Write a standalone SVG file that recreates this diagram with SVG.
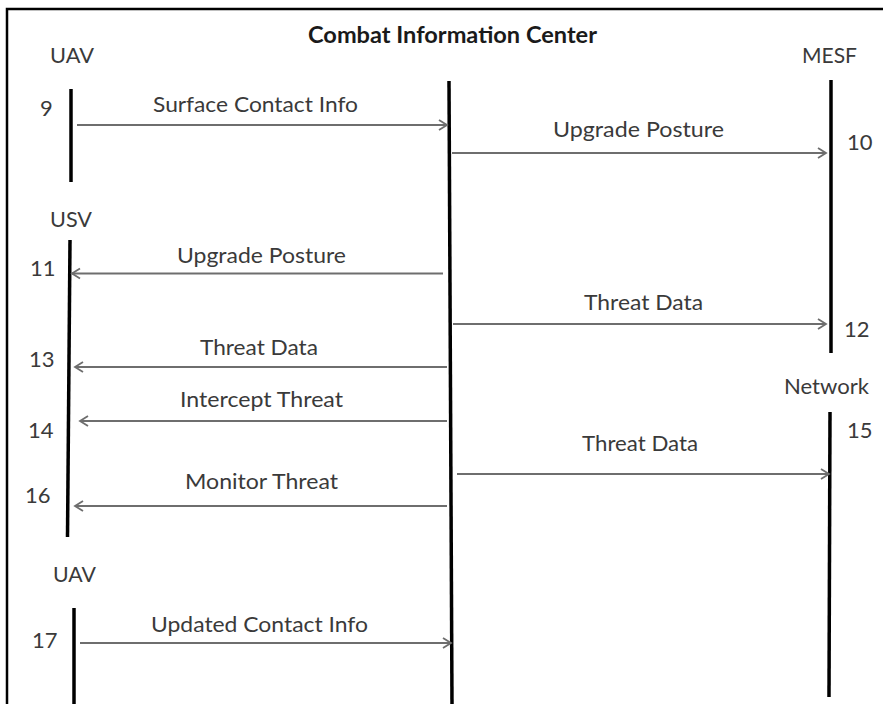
<svg xmlns="http://www.w3.org/2000/svg" width="883" height="704" viewBox="0 0 883 704">
<defs>
<marker id="open" markerUnits="userSpaceOnUse" markerWidth="14" markerHeight="14" viewBox="-10 -7 12 14" refX="0" refY="0" orient="auto">
<path d="M-8,-5 L0,0 L-8,5" fill="none" stroke="#6e6e6e" stroke-width="1.8"/>
</marker>
</defs>
<style>
.bg{fill:#fff}
.frame{fill:none;stroke:#000;stroke-width:2.5}
.life{stroke:#000;stroke-width:3.5;stroke-linecap:butt}
.msg{stroke:#6e6e6e;stroke-width:2;fill:none;marker-end:url(#open)}
.t{font-family:Lato,"Open Sans","Liberation Sans",sans-serif;font-size:22px;fill:#3a3a3a}
.title{font-family:Lato,"Open Sans","Liberation Sans",sans-serif;font-size:22px;font-weight:bold;fill:#1a1a1a}
</style>
<rect class="bg" x="0" y="0" width="883" height="704"/>
<rect class="frame" x="7" y="9" width="890" height="710"/>

<g id="cic">
<text class="title" x="308" y="43" textLength="289" lengthAdjust="spacingAndGlyphs">Combat Information Center</text>
<line class="life" x1="449" y1="81" x2="452" y2="704"/>
</g>
<g id="uav1">
<text class="t" x="50" y="63" textLength="44" lengthAdjust="spacingAndGlyphs">UAV</text>
<line class="life" x1="71" y1="89" x2="71" y2="182"/>
</g>
<g id="mesf">
<text class="t" x="802" y="63" textLength="55" lengthAdjust="spacingAndGlyphs">MESF</text>
<line class="life" x1="831" y1="80" x2="831" y2="353"/>
</g>
<g id="usv">
<text class="t" x="50" y="227" textLength="42" lengthAdjust="spacingAndGlyphs">USV</text>
<line class="life" x1="70" y1="240" x2="67.5" y2="537"/>
</g>
<g id="network">
<text class="t" x="784" y="394" textLength="85" lengthAdjust="spacingAndGlyphs">Network</text>
<line class="life" x1="830" y1="412" x2="829" y2="697"/>
</g>
<g id="uav2">
<text class="t" x="53" y="582" textLength="43" lengthAdjust="spacingAndGlyphs">UAV</text>
<line class="life" x1="74" y1="608" x2="74" y2="704"/>
</g>

<g id="connectors">
<line class="msg" x1="77" y1="125" x2="447" y2="125"/>
<line class="msg" x1="452" y1="153" x2="826" y2="153"/>
<line class="msg" x1="443" y1="273.5" x2="72" y2="273.5"/>
<line class="msg" x1="453" y1="324" x2="826" y2="324"/>
<line class="msg" x1="447" y1="367" x2="75" y2="367"/>
<line class="msg" x1="447" y1="421" x2="80" y2="421"/>
<line class="msg" x1="457" y1="474" x2="829" y2="474"/>
<line class="msg" x1="447" y1="506" x2="75" y2="506"/>
<line class="msg" x1="80" y1="643" x2="451" y2="643"/>
</g>

<g id="labels">
<text class="t" x="153" y="112" textLength="205" lengthAdjust="spacingAndGlyphs">Surface Contact Info</text>
<text class="t" x="553" y="137" textLength="171" lengthAdjust="spacingAndGlyphs">Upgrade Posture</text>
<text class="t" x="177" y="263" textLength="169" lengthAdjust="spacingAndGlyphs">Upgrade Posture</text>
<text class="t" x="584" y="310" textLength="119" lengthAdjust="spacingAndGlyphs">Threat Data</text>
<text class="t" x="200" y="355" textLength="118" lengthAdjust="spacingAndGlyphs">Threat Data</text>
<text class="t" x="180" y="407" textLength="163" lengthAdjust="spacingAndGlyphs">Intercept Threat</text>
<text class="t" x="582" y="451" textLength="116" lengthAdjust="spacingAndGlyphs">Threat Data</text>
<text class="t" x="185" y="489" textLength="153" lengthAdjust="spacingAndGlyphs">Monitor Threat</text>
<text class="t" x="151" y="632" textLength="217" lengthAdjust="spacingAndGlyphs">Updated Contact Info</text>
</g>

<g id="numbers">
<text class="t" x="40" y="116">9</text>
<text class="t" x="847" y="150">10</text>
<text class="t" x="30" y="276">11</text>
<text class="t" x="844" y="337">12</text>
<text class="t" x="29" y="367">13</text>
<text class="t" x="28" y="438">14</text>
<text class="t" x="847" y="438">15</text>
<text class="t" x="25" y="503">16</text>
<text class="t" x="32" y="648">17</text>
</g>
</svg>
